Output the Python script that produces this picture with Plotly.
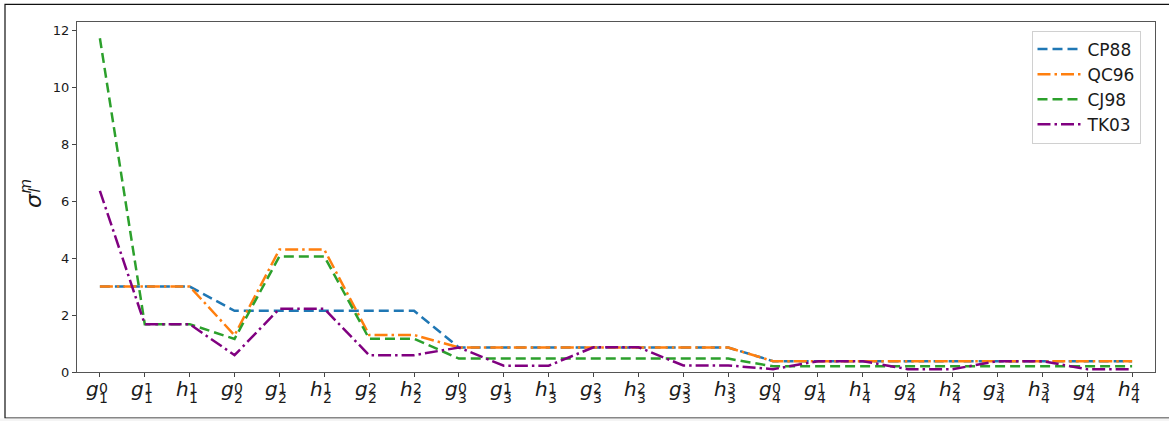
import plotly.graph_objects as go

# ---- data ----
tick_letters = ["g", "g", "h", "g", "g", "h", "g", "h",
                "g", "g", "h", "g", "h", "g", "h",
                "g", "g", "h", "g", "h", "g", "h", "g", "h"]
tick_sub = ["1", "1", "1", "2", "2", "2", "2", "2",
            "3", "3", "3", "3", "3", "3", "3",
            "4", "4", "4", "4", "4", "4", "4", "4", "4"]
tick_sup = ["0", "1", "1", "0", "1", "1", "2", "2",
            "0", "1", "1", "2", "2", "3", "3",
            "0", "1", "1", "2", "2", "3", "3", "4", "4"]

cp88 = [3.0, 3.0, 3.0, 2.15, 2.15, 2.15, 2.15, 2.15,
        0.86, 0.86, 0.86, 0.86, 0.86, 0.86, 0.86,
        0.38, 0.38, 0.38, 0.38, 0.38, 0.38, 0.38, 0.38, 0.38]
qc96 = [3.0, 3.0, 3.0, 1.29, 4.3, 4.3, 1.3, 1.3,
        0.86, 0.86, 0.86, 0.86, 0.86, 0.86, 0.86,
        0.38, 0.38, 0.38, 0.38, 0.38, 0.38, 0.38, 0.38, 0.38]
cj98 = [11.72, 1.68, 1.68, 1.16, 4.06, 4.06, 1.17, 1.17,
        0.47, 0.47, 0.47, 0.47, 0.47, 0.47, 0.47,
        0.2, 0.2, 0.2, 0.2, 0.2, 0.2, 0.2, 0.2, 0.2]
tk03 = [6.36, 1.68, 1.68, 0.59, 2.22, 2.22, 0.59, 0.59,
        0.86, 0.22, 0.22, 0.87, 0.87, 0.23, 0.23,
        0.1, 0.38, 0.38, 0.1, 0.1, 0.38, 0.38, 0.1, 0.1]

series_names = ["CP88", "QC96", "CJ98", "TK03"]
series_values = [cp88, qc96, cj98, tk03]
series_colors = ["#1f77b4", "#ff7f0e", "#2ca02c", "#800080"]
series_dash = ["10px,5px", "13px,4px,2.5px,4px", "10px,5px", "13px,4px,2.5px,4px"]

x = list(range(len(tick_letters)))

# ---- layout geometry (pixels) ----
W, H = 1169, 421
L, R, T, B = 77, 14, 22, 49
PW, PH = W - L - R, H - T - B

fig = go.Figure()
for i, (name, vals, col, dash) in enumerate(zip(series_names, series_values, series_colors, series_dash)):
    fig.add_trace(go.Scatter(
        x=x, y=vals, mode="lines", name=name,
        legendgroup=name,
        line=dict(color=col, width=2.5, dash=dash),
    ))

font_main = "DejaVu Sans"

annotations = []
# x tick labels: letter with stacked super/subscripts
for i, (let, sb, sp) in enumerate(zip(tick_letters, tick_sub, tick_sup)):
    annotations.append(dict(
        x=i, xref="x", y=0, yref="paper", text="<i>%s</i>" % let,
        xanchor="right", yanchor="middle", xshift=1, yshift=-(389 - (T + PH)),
        showarrow=False, font=dict(family=font_main, size=20, color="#1a1a1a")))
    annotations.append(dict(
        x=i, xref="x", y=0, yref="paper", text=sp,
        xanchor="left", yanchor="middle", xshift=-3, yshift=-(388 - (T + PH)),
        showarrow=False, font=dict(family=font_main, size=14, color="#1a1a1a")))
    annotations.append(dict(
        x=i, xref="x", y=0, yref="paper", text=sb,
        xanchor="left", yanchor="middle", xshift=-3, yshift=-(397.5 - (T + PH)),
        showarrow=False, font=dict(family=font_main, size=14, color="#1a1a1a")))

# y axis title sigma_l^m (rotated)
def pix_ann(px, py, text, size, angle=-90):
    return dict(x=0, xref="paper", y=0, yref="paper", xshift=px - L, yshift=(T + PH) - py,
                text=text, textangle=angle, showarrow=False,
                xanchor="center", yanchor="middle",
                font=dict(family=font_main, size=size, color="#1a1a1a"))

annotations.append(pix_ann(33, 201, "<i>σ</i>", 22))
annotations.append(pix_ann(25.5, 186, "<i>m</i>", 15))
annotations.append(pix_ann(34.5, 190, "<i>l</i>", 15))

shapes = [
    # outer figure frame
    dict(type="rect", xref="paper", yref="paper",
         x0=(5 - L) / PW, x1=(1180 - L) / PW,
         y0=((T + PH) - 418) / PH, y1=((T + PH) - 4.3) / PH,
         line=dict(color="#111111", width=1.2), fillcolor="rgba(0,0,0,0)", layer="below"),
    dict(type="rect", xref="paper", yref="paper",
         x0=(0 - L) / PW, x1=(1180 - L) / PW,
         y0=((T + PH) - 430) / PH, y1=((T + PH) - 418.6) / PH,
         line=dict(width=0), fillcolor="#f4f4f4", layer="below"),
]

fig.update_layout(
    width=W, height=H,
    margin=dict(l=L, r=R, t=T, b=B, pad=0),
    paper_bgcolor="white", plot_bgcolor="white",
    font=dict(family=font_main, size=13, color="#1a1a1a"),
    showlegend=True,
    legend=dict(
        x=(1031.5 - L) / PW, y=((T + PH) - 30.5) / PH, xanchor="left", yanchor="top",
        bgcolor="rgba(255,255,255,0.85)", bordercolor="#d0d0d0", borderwidth=1,
        font=dict(family=font_main, size=17, color="#1a1a1a"),
        itemwidth=45, tracegroupgap=0, traceorder="normal",
    ),
    xaxis=dict(
        range=[-0.51, 23.51], tickmode="array", tickvals=x, showticklabels=False,
        ticks="outside", ticklen=4, tickwidth=1, tickcolor="#444",
        showline=True, linecolor="#555", linewidth=1.2, mirror=True,
        showgrid=False, zeroline=False, fixedrange=True,
    ),
    yaxis=dict(
        range=[0, 12.29], tickmode="array", tickvals=[0, 2, 4, 6, 8, 10, 12],
        ticks="outside", ticklen=4, tickwidth=1, tickcolor="#444",
        tickfont=dict(family=font_main, size=13, color="#1a1a1a"),
        showline=True, linecolor="#555", linewidth=1.2, mirror=True,
        showgrid=False, zeroline=False, fixedrange=True,
    ),
    annotations=annotations,
    shapes=shapes,
)

fig.write_html("out.html")
